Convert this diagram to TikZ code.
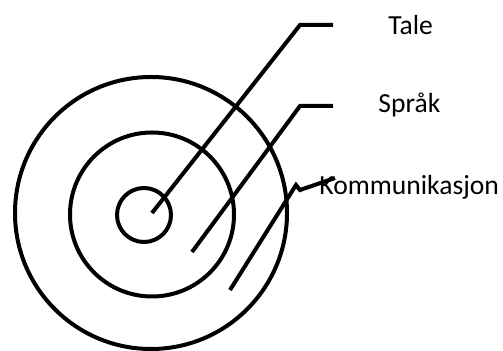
\documentclass[tikz,border=0pt]{standalone}
\usepackage{fontspec}
\setmainfont{Carlito}
\begin{document}
\begin{tikzpicture}[x=0.5pt,y=-0.5pt,
  ring/.style={circle,draw,line width=2pt,minimum size=#1,inner sep=0pt,outer sep=0pt},
  lead/.style={line width=2pt},
  lbl/.style={anchor=base west,inner sep=0pt,font=\fontsize{13.8}{16}\selectfont}]
\useasboundingbox (0,0) rectangle (503,351);
\node[ring=136pt] (outer) at (151,213) {};
\node[ring=82pt] (middle) at (152,214.5) {};
\node[ring=27pt] (inner) at (144,215) {};
\node[lbl] (tale) at (388,35) {Tale};
\node[lbl] (sprak) at (378,113) {Språk};
\node[lbl] (komm) at (319,195) {Kommunikasjon};
\coordinate (t0) at (152,213);
\coordinate (t1) at (300,25);
\coordinate (t2) at (333,25);
\coordinate (s0) at (192,252);
\coordinate (s1) at (300,106);
\coordinate (s2) at (333,106);
\coordinate (k0) at (230,290);
\coordinate (k1) at (296,185);
\coordinate (k2) at (300,190);
\coordinate (k3) at (335,178);
\draw[lead] (t0) -- (t1) -- (t2);
\draw[lead] (s0) -- (s1) -- (s2);
\draw[lead] (k0) -- (k1) -- (k2) -- (k3);
\end{tikzpicture}
\end{document}
